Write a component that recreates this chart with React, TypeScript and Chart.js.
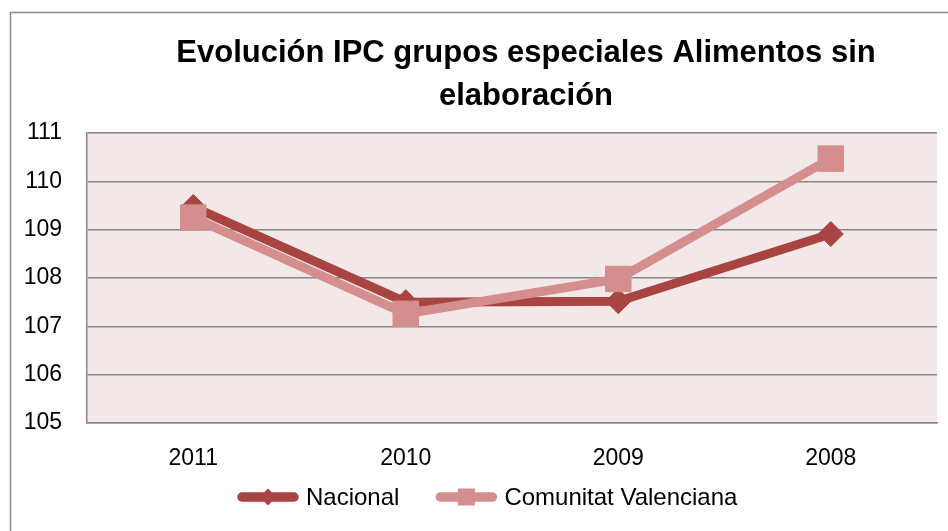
import React, { useEffect, useRef } from "react";
import { Chart, registerables } from "chart.js";

Chart.register(...registerables);

const titleLines = ["Evolución IPC grupos especiales Alimentos sin", "elaboración"];
const categories = ["2011", "2010", "2009", "2008"];
const nacional = [109.47, 107.5, 107.52, 108.91];
const comunitat = [109.25, 107.26, 107.98, 110.47];
const seriesNames = ["Nacional", "Comunitat Valenciana"];
const yMin = 105;
const yMax = 111;
const yStep = 1;

const DARK = "#A84442";
const LIGHT = "#D38E8D";
const FONT = "'Liberation Sans', Arial, sans-serif";

const decorPlugin = {
  id: "decor",
  beforeDraw(chart: any) {
    const { ctx, chartArea } = chart;
    ctx.save();
    ctx.fillStyle = "#ffffff";
    ctx.fillRect(0, 0, chart.width, chart.height);
    ctx.fillStyle = "#F2E8E8";
    ctx.fillRect(chartArea.left, chartArea.top, chartArea.right - chartArea.left, chartArea.bottom - chartArea.top);
    ctx.restore();
  },
  afterDraw(chart: any) {
    const { ctx } = chart;
    ctx.save();
    // outer frame
    ctx.strokeStyle = "#8A8A8A";
    ctx.lineWidth = 1.5;
    ctx.strokeRect(10.5, 12.5, 960, 560);
    // title
    ctx.fillStyle = "#000000";
    ctx.font = `bold 31px ${FONT}`;
    ctx.textAlign = "center";
    ctx.textBaseline = "alphabetic";
    ctx.fillText(titleLines[0], 526, 62);
    ctx.fillText(titleLines[1], 526, 105);
    // legend
    const lineLen = 62;
    const textGap = 7;
    const itemGap = 36;
    const cy = 497;
    let x = 237;
    ctx.font = `24px ${FONT}`;
    ctx.textAlign = "left";
    ctx.textBaseline = "middle";
    chart.data.datasets.forEach((ds: any) => {
      const color = ds.borderColor;
      ctx.strokeStyle = color;
      ctx.lineWidth = 9.5;
      ctx.lineCap = "round";
      ctx.beginPath();
      ctx.moveTo(x + 5, cy);
      ctx.lineTo(x + lineLen - 5, cy);
      ctx.stroke();
      const cx = x + lineLen / 2;
      ctx.fillStyle = color;
      ctx.beginPath();
      if (ds.pointStyle === "rectRot") {
        const r = 8.5;
        ctx.moveTo(cx - r, cy);
        ctx.lineTo(cx, cy - r);
        ctx.lineTo(cx + r, cy);
        ctx.lineTo(cx, cy + r);
        ctx.closePath();
      } else {
        const s = 8.5;
        ctx.rect(cx - s, cy - s, 2 * s, 2 * s);
      }
      ctx.fill();
      ctx.fillStyle = "#000000";
      const tx = x + lineLen + textGap;
      ctx.fillText(ds.label, tx, cy + 1);
      x = tx + ctx.measureText(ds.label).width + itemGap;
    });
    ctx.restore();
  },
};

export default function App() {
  const ref = useRef<HTMLCanvasElement>(null);
  useEffect(() => {
    if (!ref.current) return;
    const chart = new Chart(ref.current, {
      type: "line",
      data: {
        labels: categories,
        datasets: [
          {
            label: seriesNames[0],
            data: nacional,
            borderColor: DARK,
            backgroundColor: DARK,
            borderWidth: 9,
            pointStyle: "rectRot",
            pointRadius: 12.5,
            pointBorderWidth: 1,
            pointBackgroundColor: DARK,
            pointBorderColor: DARK,
            order: 1,
            tension: 0,
          },
          {
            label: seriesNames[1],
            data: comunitat,
            borderColor: LIGHT,
            backgroundColor: LIGHT,
            borderWidth: 9,
            pointStyle: "rect",
            pointRadius: 18,
            pointBorderWidth: 1,
            pointBackgroundColor: LIGHT,
            pointBorderColor: LIGHT,
            order: 0,
            tension: 0,
          },
        ],
      },
      options: {
        responsive: false,
        animation: false,
        layout: { autoPadding: false, padding: { top: 133, left: 0, right: 11, bottom: 0 } },
        plugins: {
          title: { display: false },
          tooltip: { enabled: false },
          legend: { display: false },
        },
        scales: {
          x: {
            type: "category",
            offset: true,
            afterFit: (scale: any) => {
              scale.height = 108;
              scale.paddingLeft = 0;
              scale.paddingRight = 0;
            },
            grid: { display: false, drawTicks: false },
            border: { display: true, color: "#868686", width: 1.5 },
            ticks: { color: "#000000", font: { family: FONT, size: 23 }, padding: 22, maxRotation: 0 },
          },
          y: {
            min: yMin,
            max: yMax,
            afterFit: (scale: any) => {
              scale.width = 87;
            },
            grid: { color: "#868686", lineWidth: 1.5, drawTicks: false },
            border: { display: true, color: "#868686", width: 1.5 },
            ticks: { stepSize: yStep, color: "#000000", font: { family: FONT, size: 23 }, padding: 25 },
          },
        },
      },
      plugins: [decorPlugin],
    });
    return () => chart.destroy();
  }, []);
  return (
    <div style={{ position: "absolute", left: 0, top: 0, width: 948, height: 531 }}>
      <canvas ref={ref} width={948} height={531} style={{ display: "block" }} />
    </div>
  );
}
